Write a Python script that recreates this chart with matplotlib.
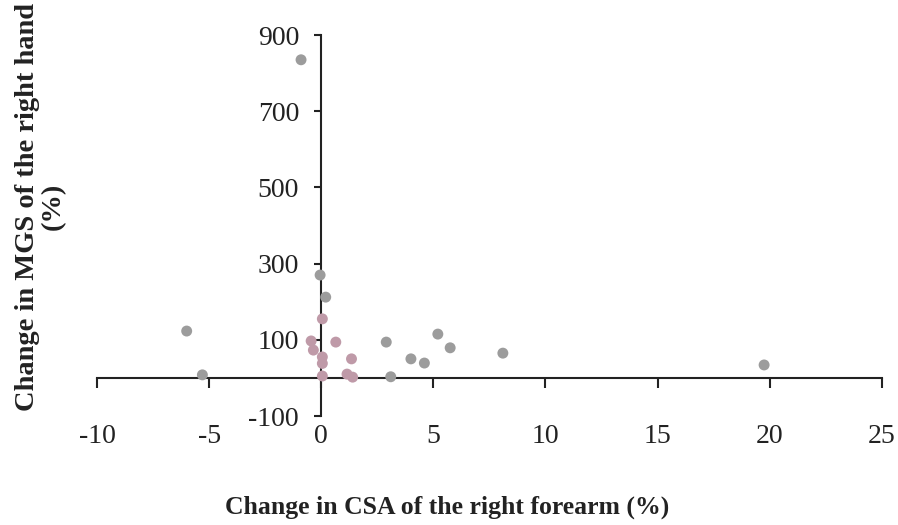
import numpy as np
import matplotlib
matplotlib.use("Agg")
import matplotlib.pyplot as plt

plt.rcParams['font.family'] = ['Liberation Serif', 'DejaVu Serif']
plt.rcParams['axes.unicode_minus'] = False

# change in CSA of the right forearm (%) vs change in MGS of the right hand (%)
csa_grey = [-0.9, -0.05, 0.2, 3.1, 2.9, 4.0, 4.6, 5.2, 5.75, 8.1, 19.75, -6.0, -5.3]
mgs_grey = [835, 270, 212, 3, 94, 50, 39, 115, 79, 65, 34, 123, 8]
csa_pink = [0.05, -0.45, -0.35, 0.65, 0.05, 0.05, 0.05, 1.35, 1.15, 1.4]
mgs_pink = [155, 97, 73, 94, 55, 38, 5, 50, 10, 2]

xticks = [-10, -5, 0, 5, 10, 15, 20, 25]
yticks = [-100, 100, 300, 500, 700, 900]

fig = plt.figure(figsize=(8.98, 5.25), dpi=100)
ax = fig.add_axes([0.108, 0.2076, 0.874, 0.7257])

ax.scatter(csa_grey, mgs_grey, s=62, color='#9c9c9c', edgecolors='none', zorder=3)
ax.scatter(csa_pink, mgs_pink, s=62, color='#bf9aa8', edgecolors='none', zorder=3)

ax.set_xlim(-10, 25)
ax.set_ylim(-100, 900)
ax.set_xticks(xticks)
ax.set_yticks(yticks)

for s in ['top', 'right']:
    ax.spines[s].set_visible(False)
ax.spines['bottom'].set_position(('data', 0))
ax.spines['left'].set_position(('data', 0))
for s in ['bottom', 'left']:
    ax.spines[s].set_linewidth(1.5)
    ax.spines[s].set_color('#222222')

ax.tick_params(axis='x', direction='out', length=7, width=1.5, color='#222222',
               labelsize=20, pad=26, labelcolor='#222222')
ax.tick_params(axis='y', direction='out', length=5, width=1.5, color='#222222',
               labelsize=20, pad=11, labelcolor='#222222')

fig.text(0.498, 0.034, 'Change in CSA of the right forearm (%)', ha='center', va='center',
         fontsize=18.5, fontweight='bold', color='#222222')
fig.text(0.045, 0.606, 'Change in MGS of the right hand\n(%)', ha='center', va='center',
         rotation=90, fontsize=20.5, fontweight='bold', color='#222222', linespacing=1.05)

fig.savefig('out.png', dpi=100)
